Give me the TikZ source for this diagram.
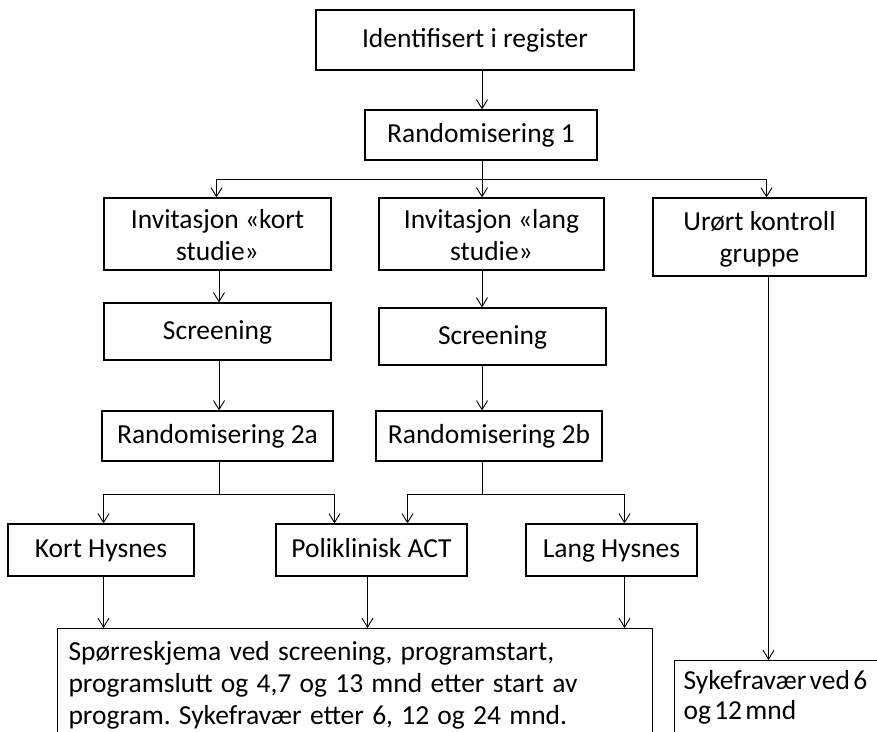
\documentclass[tikz,border=0pt]{standalone}
\usepackage{fontspec}
\setmainfont{Carlito}
\usetikzlibrary{arrows.meta}
\newcommand\tightwordsp{\spaceskip=0.12em plus 0.05em\relax}
\newcommand\evenwordsp{\spaceskip=0.3em plus 0.05em\relax\xspaceskip=0.3em plus 0.05em\relax}
\begin{document}
\begin{tikzpicture}[x=1pt,y=-1pt,
  box/.style={draw, line width=1.1pt, font=\fontsize{27.5}{32}\selectfont, align=center, inner sep=0pt,
    text height=20pt, text depth=5pt},
  boxtwo/.style={draw, line width=1.1pt, font=\fontsize{27.5}{32}\selectfont, align=center, inner sep=0pt,
    text height=55pt, text depth=2pt},
  leftbox/.style={draw, line width=1.1pt, font=\fontsize{27.5}{32}\selectfont, align=left,
    anchor=north west, inner xsep=11pt, inner ysep=0pt, text depth=100pt},
  arr/.style={line width=0.9pt, -{Straight Barb[length=9pt,width=11pt,line width=0.9pt]}},
  ln/.style={line width=0.9pt}]
\clip (0,0) rectangle (877,731);
\useasboundingbox (0,0) rectangle (877,731);
\fill[white] (0,0) rectangle (877,731);

\node[box, minimum width=318, minimum height=60] (id) at (475,40) {Identifisert i register};
\node[box, minimum width=232, minimum height=50] (r1) at (481,135) {Randomisering 1};
\node[boxtwo, minimum width=227, minimum height=72] (ik) at (217.5,234) {Invitasjon «kort\\studie»};
\node[boxtwo, minimum width=225, minimum height=72] (il) at (491.5,234) {Invitasjon «lang\\studie»};
\node[boxtwo, minimum width=213, minimum height=78, text depth=5pt] (ur) at (759.5,237) {Urørt kontroll\\gruppe};
\node[box, minimum width=227, minimum height=57] (s1) at (217.5,331.5) {Screening};
\node[box, minimum width=227, minimum height=57] (s2) at (492.5,336.5) {Screening};
\node[box, minimum width=231, minimum height=50] (r2a) at (217.5,436) {Randomisering 2a};
\node[box, minimum width=226, minimum height=50] (r2b) at (489,436) {Randomisering 2b};
\node[box, minimum width=186, minimum height=52] (kh) at (101,550) {Kort Hysnes};
\node[box, minimum width=191, minimum height=52] (pa) at (371.5,550) {Poliklinisk ACT};
\node[box, minimum width=171, minimum height=52] (lh) at (611.5,550) {Lang Hysnes};
\node[leftbox, text height=32pt, text width=573] (sp) at (57,628)
  {\evenwordsp Spørreskjema ved screening, programstart,\\programslutt og 4,7 og 13 mnd etter start av\\program. Sykefravær etter 6, 12 og 24 mnd.};
\node[leftbox, text height=29pt, text width=220, inner xsep=9pt,
  font=\fontsize{27.5}{30}\selectfont] (sy) at (674,660)
  {\tightwordsp Sykefravær ved 6\\og 12 mnd};

\coordinate (j1) at (482,179);
\coordinate (j2) at (219,494);
\coordinate (j3) at (482,494);
\coordinate (k1) at ([xshift=2.5]kh.south);
\coordinate (k2) at ([xshift=-4]pa.south);
\coordinate (k3) at ([xshift=13]lh.south);
\coordinate (k4) at ([xshift=9]ur.south);

\draw[arr] (id.south -| j1) -- (r1.north -| j1);
\draw[ln] (r1.south -| j1) -- (j1);
\draw[arr] (j1) -| ([xshift=-1]ik.north);
\draw[arr] (j1) -- (il.north -| j1);
\draw[arr] (j1) -| ([xshift=7]ur.north);

\draw[arr] ([xshift=1.5]ik.south) -- ([xshift=1.5]s1.north);
\draw[arr] (il.south -| j1) -- (s2.north -| j1);
\draw[arr] ([xshift=1.5]s1.south) -- ([xshift=1.5]r2a.north);
\draw[arr] (s2.south -| j1) -- (r2b.north -| j1);

\draw[ln] (r2a.south -| j2) -- (j2);
\draw[arr] (j2) -| ([xshift=2.5]kh.north);
\draw[arr] (j2) -| ([xshift=-37]pa.north);
\draw[ln] (r2b.south -| j3) -- (j3);
\draw[arr] (j3) -| ([xshift=36]pa.north);
\draw[arr] (j3) -| ([xshift=13]lh.north);

\draw[arr] (k1) -- (sp.north -| k1);
\draw[arr] (k2) -- (sp.north -| k2);
\draw[arr] (k3) -- (sp.north -| k3);
\draw[arr] (k4) -- (sy.north -| k4);
\end{tikzpicture}
\end{document}
